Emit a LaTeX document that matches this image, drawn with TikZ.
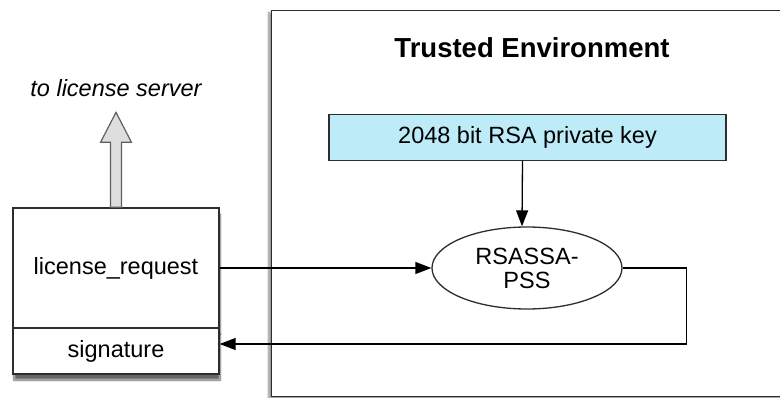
\documentclass[tikz,border=0pt]{standalone}
\usepackage{fontspec}
\setmainfont{Liberation Sans}
\usetikzlibrary{arrows.meta,shapes.geometric,shadows.blur}
\definecolor{keyblue}{RGB}{189,235,248}
\definecolor{edgegray}{RGB}{45,45,45}
\definecolor{fatfill}{RGB}{222,222,222}
\definecolor{fatdraw}{RGB}{95,95,95}
\tikzset{
    txt/.style={font=\fontsize{23.5pt}{24pt}\selectfont},
    shade/.style={blur shadow={shadow xshift=1pt, shadow yshift=-6pt, shadow blur steps=10, shadow opacity=60}},
    sigarrow/.style={-{Triangle[length=16pt,width=12pt]}, line width=1.3pt}
}
\begin{document}
\begin{tikzpicture}[x=1pt,y=-1pt]
        \useasboundingbox (0,0) rectangle (780,398);
        % trusted side
        \node (env) [draw=edgegray, line width=1.4pt, fill=white, anchor=north west,
            minimum width=540pt, minimum height=386pt,
            blur shadow={shadow xshift=-3pt, shadow yshift=-2pt, shadow blur steps=8, shadow opacity=45}] at (271,10) {};
        \node (title) [font=\fontsize{27.5pt}{30pt}\selectfont\bfseries] at (532,48) {Trusted Environment};
        \begin{scope}[every node/.style={rectangle,draw=edgegray,line width=1.3pt,txt,inner sep=0pt}]
            \node (key) [fill=keyblue, minimum width=397pt, minimum height=46pt] at (527.5,137.5) {2048 bit RSA private key};
            \node (req) [fill=white, minimum width=206pt, minimum height=120pt, shade] at (116,268) {license\_request};
            \node (sig) [fill=white, minimum width=206pt, minimum height=46pt, shade] at (116,351) {signature};
        \end{scope}
        \begin{scope}[every node/.style={ellipse,draw=edgegray,line width=1.3pt,txt,align=center,inner sep=0pt}]
            \node (sign) [fill=white, minimum width=190pt, minimum height=82pt] at (527,268) {RSASSA-\\PSS};
        \end{scope}

        % client side
        \node (server) [txt, font=\fontsize{23.5pt}{24pt}\selectfont\itshape] at (116,88) {to license server};
        \draw [draw=fatdraw, fill=fatfill, line width=1.2pt, line join=miter]
            ([xshift=-5.5pt]req.north) -- ++(0,-65) -- ++(-10,0) -- ++(15.5,-30)
            -- ++(15.5,30) -- ++(-10,0) -- ([xshift=5.5pt]req.north) -- cycle;

        \begin{scope}[every path/.style={draw=black}]
            \draw [sigarrow] ([xshift=-5pt]key.south) -- ([xshift=-5pt]sign.north);
            \draw [sigarrow] (req.east) -- (req.east -| sign.west);
            \draw [sigarrow] (sign.east) -- ++(64,0) |- ([yshift=7pt]sig.east);
        \end{scope}
    \end{tikzpicture}
\end{document}
